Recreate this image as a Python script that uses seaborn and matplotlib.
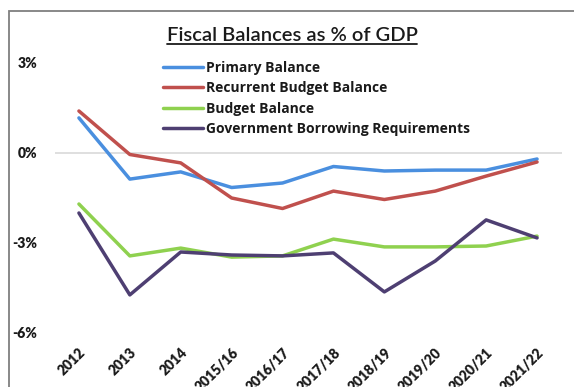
import matplotlib
matplotlib.use("Agg")
import matplotlib.pyplot as plt
import seaborn as sns
import pandas as pd
from matplotlib.patches import Rectangle
from matplotlib.lines import Line2D

years = ["2012", "2013", "2014", "2015/16", "2016/17", "2017/18",
         "2018/19", "2019/20", "2020/21", "2021/22"]
primary_balance = [1.17, -0.87, -0.63, -1.15, -1.0, -0.45, -0.6, -0.57, -0.57, -0.2]
recurrent_budget_balance = [1.4, -0.05, -0.33, -1.5, -1.85, -1.27, -1.55, -1.27, -0.77, -0.3]
budget_balance = [-1.7, -3.43, -3.17, -3.47, -3.43, -2.87, -3.13, -3.13, -3.1, -2.77]
gov_borrowing = [-2.0, -4.73, -3.3, -3.4, -3.43, -3.33, -4.63, -3.6, -2.23, -2.83]

series_names = ["Primary Balance", "Recurrent Budget Balance", "Budget Balance",
                "Government Borrowing Requirements"]
series_values = [primary_balance, recurrent_budget_balance, budget_balance, gov_borrowing]
colors = ["#4A8FDF", "#C0504D", "#8FD14F", "#4E3F72"]
ytick_values = [3, 0, -3, -6]
ytick_labels = ["3%", "0%", "-3%", "-6%"]
title = "Fiscal Balances as % of GDP"

rows = []
for name, vals in zip(series_names, series_values):
    for y, v in zip(years, vals):
        rows.append({"Year": y, "Value": v, "Series": name})
df = pd.DataFrame(rows)

sns.set_theme(style="white")
plt.rcParams["font.family"] = ["Lato", "DejaVu Sans"]

W, H = 574, 387
fig = plt.figure(figsize=(W / 100, H / 100), dpi=100)
ax = fig.add_axes([55 / W, 1 - 333 / H, (562 - 55) / W, (333 - 63) / H])

ax.axhline(0, color="#D9D9D9", lw=1.2, zorder=0)
sns.lineplot(data=df, x="Year", y="Value", hue="Series", hue_order=series_names,
             palette=colors, sort=False, lw=2.5, ax=ax, legend=True)

ax.set_xlim(-0.47, len(years) - 1 + 0.49)
ax.set_ylim(-6, 3)
ax.set_yticks(ytick_values)
ax.set_yticklabels(ytick_labels, fontsize=10, fontweight="heavy", color="#1a1a1a")
ax.set_xticks(range(len(years)))
ax.set_xticklabels(years, fontsize=10, fontweight="heavy", color="#1a1a1a",
                   rotation=45, ha="right", va="top", rotation_mode="anchor")
ax.tick_params(axis="y", length=0, pad=13)
ax.tick_params(axis="x", length=0, pad=9)
ax.set_xlabel("")
ax.set_ylabel("")
for s in ax.spines.values():
    s.set_visible(False)
ax.patch.set_alpha(0)

handles, labels = ax.get_legend_handles_labels()
ax.legend(handles, labels, loc="upper left", bbox_to_anchor=(163 / W, 1 - 61 / H),
          bbox_transform=fig.transFigure, frameon=False, borderpad=0,
          handlelength=2.9, handletextpad=0.2, labelspacing=0.45,
          prop={"size": 10, "weight": "bold", "family": ["Open Sans", "DejaVu Sans"]},
          labelcolor="#1a1a1a", borderaxespad=0)

t = fig.text(292 / W, 1 - 41 / H, title, ha="center", va="baseline",
             fontsize=14.5, color="#1a1a1a", fontweight="semibold")
fig.canvas.draw()
bb = t.get_window_extent(renderer=fig.canvas.get_renderer())
uy = 1 - 44 / H
fig.add_artist(Line2D([bb.x0 / W, bb.x1 / W], [uy, uy], transform=fig.transFigure,
                      color="#1a1a1a", lw=1.3))

fig.add_artist(Rectangle((9 / W, -0.2), 1.2, 1.2 - 11 / H,
                         transform=fig.transFigure, fill=False,
                         edgecolor="#7F7F7F", lw=1.3))

fig.savefig("out.png", dpi=100)
